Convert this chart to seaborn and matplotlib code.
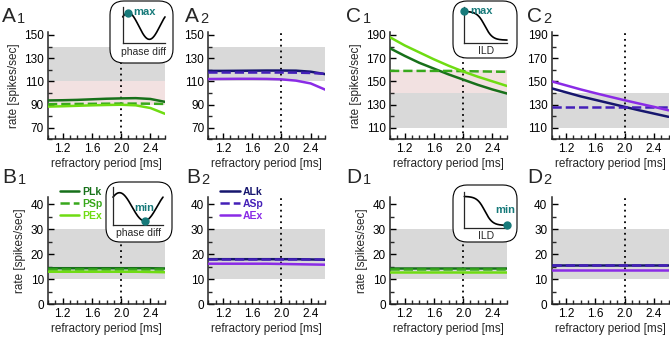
import numpy as np
import pandas as pd
import matplotlib
matplotlib.use("Agg")
import matplotlib.pyplot as plt
import seaborn as sns
from matplotlib.patches import FancyBboxPatch
from matplotlib.lines import Line2D
from matplotlib.ticker import MultipleLocator

# refractory period values (ms)
refr = [1.0, 1.2, 1.4, 1.6, 1.8, 2.0, 2.2, 2.4, 2.6]

# A1: max response vs phase difference, P-type models
a1_lk = [93.5, 93.7, 94.0, 94.5, 95.0, 95.3, 95.5, 94.8, 92.3]
a1_sp = [90.3, 90.4, 90.5, 90.6, 90.7, 90.8, 90.8, 90.7, 90.5]
a1_ex = [88.2, 88.5, 88.9, 89.3, 89.6, 89.8, 89.3, 87.0, 82.0]
# A2: A-type models
a2_lk = [119.0, 119.0, 119.1, 119.2, 119.3, 119.3, 119.2, 118.3, 116.2]
a2_sp = [117.6, 117.6, 117.6, 117.6, 117.6, 117.6, 117.5, 117.2, 116.5]
a2_ex = [112.0, 112.1, 112.2, 112.2, 112.1, 111.7, 110.6, 108.2, 102.8]
# B1/B2: min response vs phase difference
b1_lk = [14.4, 14.4, 14.4, 14.4, 14.4, 14.4, 14.4, 14.4, 14.3]
b1_sp = [14.1, 14.1, 14.1, 14.1, 14.1, 14.1, 14.1, 14.1, 14.1]
b1_ex = [13.0, 13.0, 13.0, 13.0, 13.0, 13.0, 13.0, 12.9, 12.8]
b2_lk = [18.0, 18.0, 18.0, 18.0, 18.0, 18.0, 18.0, 17.9, 17.8]
b2_sp = [18.1, 18.1, 18.1, 18.1, 18.1, 18.1, 18.1, 18.1, 18.1]
b2_ex = [16.2, 16.2, 16.2, 16.2, 16.2, 16.1, 16.0, 15.9, 15.8]
# C1/C2: max response vs ILD
c1_lk = [178.5, 172.0, 166.0, 161.0, 156.0, 151.5, 147.0, 143.0, 139.5]
c1_sp = [159.0, 159.0, 159.0, 159.0, 159.0, 158.8, 158.6, 158.4, 158.2]
c1_ex = [188.0, 181.0, 175.0, 169.0, 163.5, 158.5, 154.0, 150.0, 146.0]
c2_lk = [144.0, 140.5, 137.0, 134.0, 131.0, 128.0, 125.0, 122.2, 119.4]
c2_sp = [127.8, 127.8, 127.8, 127.8, 127.8, 127.8, 127.8, 127.8, 127.8]
c2_ex = [150.0, 146.5, 143.0, 139.8, 136.7, 133.7, 130.8, 128.0, 125.0]
# D1/D2: min response vs ILD
d1_lk = [14.3, 14.3, 14.3, 14.3, 14.3, 14.3, 14.3, 14.3, 14.3]
d1_sp = [14.2, 14.2, 14.2, 14.2, 14.2, 14.2, 14.2, 14.2, 14.2]
d1_ex = [12.9, 12.9, 12.9, 12.9, 12.9, 12.9, 12.9, 12.9, 12.9]
d2_lk = [15.6, 15.6, 15.6, 15.6, 15.6, 15.6, 15.6, 15.6, 15.6]
d2_sp = [15.8, 15.8, 15.8, 15.8, 15.8, 15.8, 15.8, 15.8, 15.8]
d2_ex = [13.7, 13.7, 13.7, 13.7, 13.7, 13.7, 13.7, 13.7, 13.7]

p_names = ["PLk", "PSp", "PEx"]
a_names = ["ALk", "ASp", "AEx"]
p_colors = ["#17701a", "#38a81c", "#6fdc12"]
a_colors = ["#16166e", "#4420b8", "#8a2be6"]
teal = "#177a7a"

sns.set_style("ticks")
plt.rcParams["font.family"] = ["Liberation Sans", "DejaVu Sans"]

W, H = 670, 337
fig = plt.figure(figsize=(6.7, 3.37), dpi=100)


def px_rect(x0, y0, x1, y1):
    return [x0 / W, 1 - y1 / H, (x1 - x0) / W, (y1 - y0) / H]


def panel(rect, series, names, colors, ylim, yticks, bands, ylabel):
    ax = fig.add_axes(rect)
    for lo, hi, c in bands:
        ax.axhspan(lo, hi, color=c, lw=0, zorder=0)
    ax.axvline(2.0, color="black", ls=(0, (1, 2.2)), lw=1.3, zorder=1)
    for vals, name, c in zip(series, names, colors):
        ls = "--" if name.endswith("Sp") else "-"
        sns.lineplot(x=refr, y=vals, color=c, lw=1.8, ax=ax, linestyle=ls, zorder=3)
    ax.set_xlim(1.0, 2.6)
    ax.set_ylim(*ylim)
    ax.set_xticks([1.2, 1.6, 2.0, 2.4])
    ax.set_xticklabels(["1.2", "1.6", "2.0", "2.4"])
    ax.xaxis.set_minor_locator(MultipleLocator(0.1))
    ax.set_yticks(yticks)
    ax.yaxis.set_minor_locator(MultipleLocator((yticks[1] - yticks[0]) / 2))
    ax.tick_params(which="major", direction="in", length=4, width=1, labelsize=8.5, pad=3, colors="black")
    ax.tick_params(which="minor", direction="in", length=3, width=1)
    for s in ["top", "right"]:
        ax.spines[s].set_visible(False)
    for s in ["left", "bottom"]:
        ax.spines[s].set_linewidth(1.1)
    ax.set_xlabel("refractory period [ms]", fontsize=8.5, labelpad=2)
    if ylabel:
        ax.set_ylabel("rate [spikes/sec]", fontsize=8.5, labelpad=3)
    else:
        ax.set_ylabel("")
    return ax


gray = "#d9d9d9"
pink = "#f2e1e1"
top_lim = (60, 152.3)
top_ticks = [70, 90, 110, 130, 150]
c_lim = (100, 192.3)
c_ticks = [110, 130, 150, 170, 190]
low_lim = (0, 42.7)
low_ticks = [0, 10, 20, 30, 40]

lefts = [48, 208.3, 390, 551.5]
top_y = (32.3, 139.3)
bot_y = (197.3, 304.3)

axA1 = panel(px_rect(lefts[0], top_y[0], lefts[0] + 117, top_y[1]), [a1_lk, a1_sp, a1_ex], p_names, p_colors,
             top_lim, top_ticks, [(110, 140, gray), (90, 110, pink)], True)
axA2 = panel(px_rect(lefts[1], top_y[0], lefts[1] + 117, top_y[1]), [a2_lk, a2_sp, a2_ex], a_names, a_colors,
             top_lim, top_ticks, [(110, 140, gray)], False)
axC1 = panel(px_rect(lefts[2], top_y[0], lefts[2] + 117, top_y[1]), [c1_lk, c1_sp, c1_ex], p_names, p_colors,
             c_lim, c_ticks, [(110, 140, gray), (140, 160, pink)], True)
axC2 = panel(px_rect(lefts[3], top_y[0], lefts[3] + 117, top_y[1]), [c2_lk, c2_sp, c2_ex], a_names, a_colors,
             c_lim, c_ticks, [(110, 140, gray)], False)
axB1 = panel(px_rect(lefts[0], bot_y[0], lefts[0] + 117, bot_y[1]), [b1_lk, b1_sp, b1_ex], p_names, p_colors,
             low_lim, low_ticks, [(10, 30, gray)], True)
axB2 = panel(px_rect(lefts[1], bot_y[0], lefts[1] + 117, bot_y[1]), [b2_lk, b2_sp, b2_ex], a_names, a_colors,
             low_lim, low_ticks, [(10, 30, gray)], False)
axD1 = panel(px_rect(lefts[2], bot_y[0], lefts[2] + 117, bot_y[1]), [d1_lk, d1_sp, d1_ex], p_names, p_colors,
             low_lim, low_ticks, [(10, 30, gray)], True)
axD2 = panel(px_rect(lefts[3], bot_y[0], lefts[3] + 117, bot_y[1]), [d2_lk, d2_sp, d2_ex], a_names, a_colors,
             low_lim, low_ticks, [(10, 30, gray)], False)

# legends in B1 and B2
for ax, names, colors in [(axB1, p_names, p_colors), (axB2, a_names, a_colors)]:
    handles = [Line2D([], [], color=c, lw=1.8, ls="--" if n.endswith("Sp") else "-") for n, c in zip(names, colors)]
    ax.legend(handles, names, loc="upper left", bbox_to_anchor=(0.1, 1.1), frameon=False,
              handlelength=1.9, handletextpad=0.3, labelspacing=0.2, borderaxespad=0, borderpad=0,
              prop={"weight": "bold", "size": 7.5}, labelcolor="linecolor")

# panel labels: big letter with a smaller number right after it
labels = [("A", "1", 2, 22), ("A", "2", 185, 22), ("C", "1", 346, 22), ("C", "2", 527, 22),
          ("B", "1", 2, 183), ("B", "2", 186, 183), ("D", "1", 346, 183), ("D", "2", 527, 183)]
for letter, num, x, y in labels:
    t = fig.text(x / W, 1 - y / H, letter, fontsize=15, ha="left", va="baseline")
    fig.add_artist(plt.Annotation(num, xy=(1, 0), xycoords=t, xytext=(1, 0), textcoords="offset points",
                                  fontsize=10.5, ha="left", va="bottom"))


# schematic insets
def inset(box, inner, kind, mark, label, label_y):
    bax = fig.add_axes(px_rect(*box))
    bax.set_axis_off()
    bw = box[2] - box[0]
    bh = box[3] - box[1]
    bax.add_patch(FancyBboxPatch((0.0, 0.0), 1.0, 1.0, boxstyle="round,pad=0,rounding_size=0.22",
                                 mutation_aspect=bw / bh, transform=bax.transAxes,
                                 facecolor="white", edgecolor="black", lw=0.8, clip_on=False))
    iax = fig.add_axes(px_rect(*inner))
    iax.set_xlim(0, 1)
    iax.set_ylim(0, 1)
    iax.patch.set_alpha(0)
    iax.set_xticks([])
    iax.set_yticks([])
    for s in ["top", "right"]:
        iax.spines[s].set_visible(False)
    for s in ["left", "bottom"]:
        iax.spines[s].set_linewidth(0.9)
    t = np.linspace(0, 1, 200)
    if kind == "phase":
        y = 0.48 + 0.37 * np.cos(2 * np.pi * (t - 0.13))
        tmax, tmin = 0.13, 0.63
    else:
        y = 0.08 + 0.8 / (1 + np.exp((t - 0.48) / 0.09))
        tmax, tmin = 0.0, 1.0
    iax.plot(t, y, color="black", lw=1.2, clip_on=False)
    tm = tmax if mark == "max" else tmin
    ym = np.interp(tm, t, y)
    iax.plot([tm], [ym], "o", color=teal, ms=5, clip_on=False, zorder=5)
    if mark == "max":
        iax.text(tm + 0.13, ym + 0.02, "max", color=teal, fontsize=8, fontweight="bold", ha="left", va="center")
    elif kind == "phase":
        iax.text(tm, ym + 0.33, "min", color=teal, fontsize=8, fontweight="bold", ha="center", va="center")
    else:
        iax.text(tm - 0.05, ym + 0.42, "min", color=teal, fontsize=8, fontweight="bold", ha="center", va="center")
    fig.text(((inner[0] + inner[2]) / 2) / W, 1 - label_y / H, label, fontsize=7.5, ha="center", va="center")


inset((110, 1, 173, 63), (122.7, 7.3, 165, 43.3), "phase", "max", "phase diff", 52)
inset((106, 182, 172, 242), (113, 187, 163, 225), "phase", "min", "phase diff", 233.5)
inset((453, 1, 517, 58), (464.3, 7, 507, 43), "ild", "max", "ILD", 51.5)
inset((453, 185, 517, 242), (464.3, 192, 507, 228.3), "ild", "min", "ILD", 236)

fig.savefig("out.png", dpi=100)
